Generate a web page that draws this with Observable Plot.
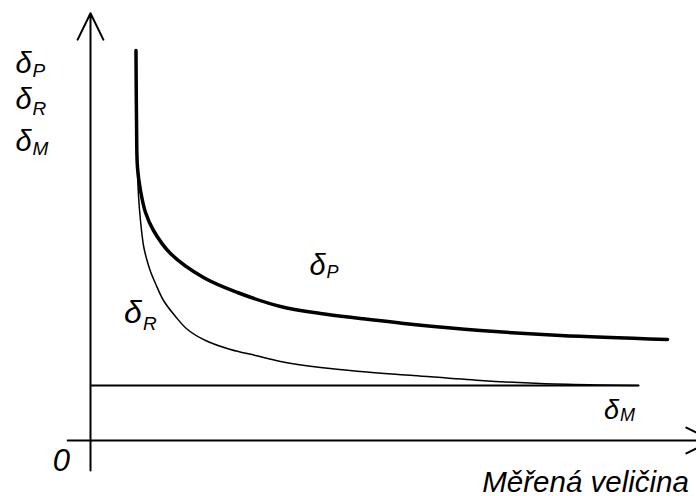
<!DOCTYPE html>
<html>
<head>
<meta charset="utf-8">
<script src="https://cdn.jsdelivr.net/npm/d3@7"></script>
<script src="https://cdn.jsdelivr.net/npm/@observablehq/plot@0.6"></script>
<style>
  html, body { margin: 0; padding: 0; background: #fff; }
  #chart { width: 696px; height: 496px; }
</style>
</head>
<body>
<div id="chart"></div>
<script>
// δP – total (thick) error curve
const pX = [7.58, 7.67, 7.83, 8.33, 9.17, 10.5, 13.33, 18.83, 24.5, 31.67, 38.33, 45.0, 53.83, 65.0, 78.33, 96.17];
const pY = [97.5, 80.0, 68.25, 62.5, 57.0, 52.5, 46.75, 40.75, 37.0, 33.5, 31.75, 30.5, 29.0, 27.5, 26.25, 25.25];
// δR – relative (thin) error curve
const rX = [7.83, 8.0, 8.33, 8.83, 9.33, 10.0, 10.83, 12.17, 14.17, 16.17, 19.17, 23.33, 27.5, 31.67, 38.33, 45.0, 53.83, 65.0, 75.0, 85.0, 91.33];
const rY = [67.5, 61.25, 55.0, 48.75, 45.5, 42.25, 39.25, 35.0, 31.0, 27.75, 25.0, 22.75, 21.25, 19.75, 18.25, 17.25, 16.25, 15.0, 14.25, 13.9, 13.75];
// δM – constant error line
const mX = [0.2, 91.33];
const mY = [13.75, 13.75];

const pData = pX.map((x, i) => ({x, y: pY[i]}));
const rData = rX.map((x, i) => ({x, y: rY[i]}));
const mData = mX.map((x, i) => ({x, y: mY[i]}));

const FONT = "Liberation Sans, Arial, sans-serif";

function delta(x, y, sub, size, subSize, dx, dy) {
  return [
    Plot.text([{x, y}], {x: "x", y: "y", text: () => "δ", textAnchor: "start", lineAnchor: "bottom",
      fontSize: size, fontStyle: "italic", fontFamily: FONT, fill: "#000"}),
    Plot.text([{x, y}], {x: "x", y: "y", text: () => sub, textAnchor: "start", lineAnchor: "bottom",
      dx, dy, fontSize: subSize, fontStyle: "italic", fontFamily: FONT, fill: "#000"})
  ];
}

const chart = Plot.plot({
  width: 696,
  height: 496,
  margin: 0,
  style: {background: "#fff", overflow: "visible"},
  x: {domain: [-15, 101], range: [0, 696], axis: null},
  y: {domain: [-14, 110], range: [496, 0], axis: null},
  marks: [
    // axes with arrows
    Plot.arrow([{x1: 0, y1: -7.5, x2: 0, y2: 106.8}], {x1: "x1", y1: "y1", x2: "x2", y2: "y2",
      stroke: "#000", strokeWidth: 2, headLength: 22, headAngle: 52}),
    Plot.arrow([{x1: -3.8, y1: 0, x2: 103.7, y2: 0}], {x1: "x1", y1: "y1", x2: "x2", y2: "y2",
      stroke: "#000", strokeWidth: 2, headLength: 22, headAngle: 52}),
    // curves
    Plot.line(mData, {x: "x", y: "y", stroke: "#000", strokeWidth: 2}),
    Plot.line(rData, {x: "x", y: "y", stroke: "#000", strokeWidth: 1.5, curve: "catmull-rom"}),
    Plot.line(pData, {x: "x", y: "y", stroke: "#000", strokeWidth: 3.5, curve: "catmull-rom"}),
    // labels
    ...delta(-12.5, 92, "P", 29, 19, 17, 4),
    ...delta(-12.5, 83, "R", 29, 19, 17, 6),
    ...delta(-12.5, 72.5, "M", 29, 19, 17, 4),
    ...delta(36.5, 41.3, "P", 29, 18, 17, 3),
    ...delta(5.6, 29.3, "R", 32, 19, 19, 7),
    ...delta(85.6, 5.5, "M", 27, 18, 16, 2),
    Plot.text([{x: -6.3, y: -7.5}], {x: "x", y: "y", text: () => "0", textAnchor: "start", lineAnchor: "bottom",
      fontSize: 31, fontStyle: "italic", fontFamily: FONT, fill: "#000"}),
    Plot.text([{x: 65.3, y: -12.75}], {x: "x", y: "y", text: () => "Měřená veličina", textAnchor: "start", lineAnchor: "bottom",
      fontSize: 29.5, fontStyle: "italic", fontFamily: FONT, fill: "#000"})
  ]
});
document.getElementById("chart").appendChild(chart);
</script>
</body>
</html>
